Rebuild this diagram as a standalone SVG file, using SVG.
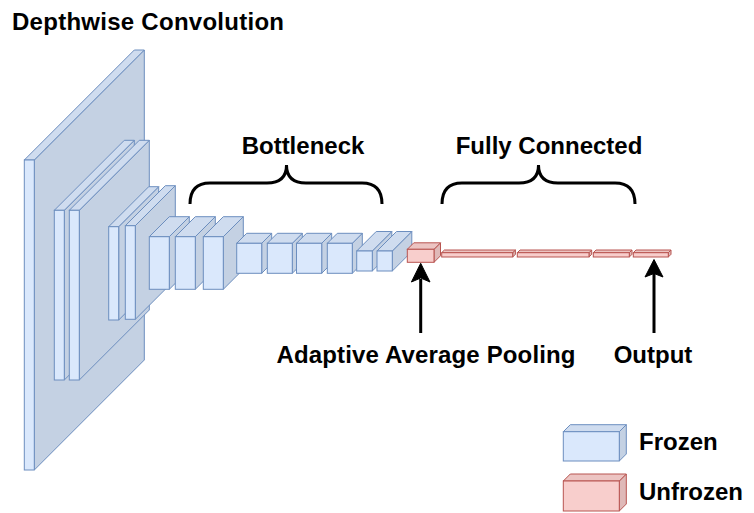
<svg xmlns="http://www.w3.org/2000/svg" width="754" height="513" viewBox="0 0 754 513">
<style>
.bf{fill:#dae8fc;stroke:#6c8ebf;stroke-width:1}
.bt{fill:#cfdcef;stroke:#6c8ebf;stroke-width:1;stroke-linejoin:round}
.bs{fill:#c4d1e3;stroke:#6c8ebf;stroke-width:1;stroke-linejoin:round}
.rf{fill:#f8cecc;stroke:#b85450;stroke-width:1}
.rt{fill:#ecc4c2;stroke:#b85450;stroke-width:1;stroke-linejoin:round}
.rs{fill:#dfb9b8;stroke:#b85450;stroke-width:1;stroke-linejoin:round}
.t{font-family:"Liberation Sans",Arial,sans-serif;font-weight:bold;font-size:24px;fill:#000}
.br{fill:none;stroke:#000;stroke-width:3;stroke-linecap:butt}
.ar{stroke:#000;stroke-width:3;fill:none}
.ah{fill:#000;stroke:#000;stroke-width:1}
</style>
<text class="t" x="12" y="29.5" textLength="272" lengthAdjust="spacing">Depthwise Convolution</text>

<g id="slab1"><polygon class="bs" points="34.3,160 144.3,50 144.3,360 34.3,470"/><polygon class="bt" points="24.3,160 134.3,50 144.3,50 34.3,160"/><rect class="bf" x="24.3" y="160" width="10" height="310"/></g>
<g id="slab2"><polygon class="bs" points="64.3,210.3 134.3,140.3 134.3,310 64.3,380"/><polygon class="bt" points="54.3,210.3 124.3,140.3 134.3,140.3 64.3,210.3"/><rect class="bf" x="54.3" y="210.3" width="10" height="169.7"/></g>
<g id="slab3"><polygon class="bs" points="79.3,210.3 149.3,140.3 149.3,310 79.3,380"/><polygon class="bt" points="69.3,210.3 139.3,140.3 149.3,140.3 79.3,210.3"/><rect class="bf" x="69.3" y="210.3" width="10" height="169.7"/></g>
<g id="slab4"><polygon class="bs" points="118.7,226.7 158.7,186.7 158.7,280 118.7,320"/><polygon class="bt" points="108.7,226.7 148.7,186.7 158.7,186.7 118.7,226.7"/><rect class="bf" x="108.7" y="226.7" width="10" height="93.3"/></g>
<g id="slab5"><polygon class="bs" points="135.3,225.7 175.3,185.7 175.3,279.3 135.3,319.3"/><polygon class="bt" points="125.3,225.7 165.3,185.7 175.3,185.7 135.3,225.7"/><rect class="bf" x="125.3" y="225.7" width="10" height="93.6"/></g>
<g id="box1"><polygon class="bs" points="169.3,236.7 189.3,216.7 189.3,269.3 169.3,289.3"/><polygon class="bt" points="149.3,236.7 169.3,216.7 189.3,216.7 169.3,236.7"/><rect class="bf" x="149.3" y="236.7" width="20" height="52.6"/></g>
<g id="box2"><polygon class="bs" points="195.3,236.7 215.3,216.7 215.3,269.3 195.3,289.3"/><polygon class="bt" points="175.3,236.7 195.3,216.7 215.3,216.7 195.3,236.7"/><rect class="bf" x="175.3" y="236.7" width="20" height="52.6"/></g>
<g id="box3"><polygon class="bs" points="223.3,236.7 243.3,216.7 243.3,269.3 223.3,289.3"/><polygon class="bt" points="203.3,236.7 223.3,216.7 243.3,216.7 223.3,236.7"/><rect class="bf" x="203.3" y="236.7" width="20" height="52.6"/></g>
<g id="box4"><polygon class="bs" points="261.7,243.3 271.7,233.3 271.7,263.3 261.7,273.3"/><polygon class="bt" points="236.7,243.3 246.7,233.3 271.7,233.3 261.7,243.3"/><rect class="bf" x="236.7" y="243.3" width="25" height="30"/></g>
<g id="box5"><polygon class="bs" points="292.3,243.3 302.3,233.3 302.3,263.3 292.3,273.3"/><polygon class="bt" points="267.3,243.3 277.3,233.3 302.3,233.3 292.3,243.3"/><rect class="bf" x="267.3" y="243.3" width="25" height="30"/></g>
<g id="box6"><polygon class="bs" points="321.7,243.3 331.7,233.3 331.7,263.3 321.7,273.3"/><polygon class="bt" points="296.5,243.3 306.5,233.3 331.7,233.3 321.7,243.3"/><rect class="bf" x="296.5" y="243.3" width="25.2" height="30"/></g>
<g id="box7"><polygon class="bs" points="352.3,243.3 362.3,233.3 362.3,263.3 352.3,273.3"/><polygon class="bt" points="327.3,243.3 337.3,233.3 362.3,233.3 352.3,243.3"/><rect class="bf" x="327.3" y="243.3" width="25" height="30"/></g>
<g id="box8"><polygon class="bs" points="372.3,251 391.8,231.5 391.8,251.5 372.3,271"/><polygon class="bt" points="356.7,251 376.2,231.5 391.8,231.5 372.3,251"/><rect class="bf" x="356.7" y="251" width="15.6" height="20"/></g>
<g id="box9"><polygon class="bs" points="392.3,251 411.8,231.5 411.8,251.5 392.3,271"/><polygon class="bt" points="377,251 396.5,231.5 411.8,231.5 392.3,251"/><rect class="bf" x="377" y="251" width="15.3" height="20"/></g>

<g id="pool"><polygon class="rs" points="434,249.3 440.5,242.8 440.5,255.8 434,262.3"/><polygon class="rt" points="407.3,249.3 413.8,242.8 440.5,242.8 434,249.3"/><rect class="rf" x="407.3" y="249.3" width="26.7" height="13"/></g>
<g id="fc1"><polygon class="rs" points="512.7,252.7 515.4,250 515.4,254.3 512.7,257"/><polygon class="rt" points="441.7,252.7 444.4,250 515.4,250 512.7,252.7"/><rect class="rf" x="441.7" y="252.7" width="71" height="4.3"/></g>
<g id="fc2"><polygon class="rs" points="589,252.7 591.7,250 591.7,254.3 589,257"/><polygon class="rt" points="517.3,252.7 520,250 591.7,250 589,252.7"/><rect class="rf" x="517.3" y="252.7" width="71.7" height="4.3"/></g>
<g id="fc3"><polygon class="rs" points="629.3,252.7 632,250 632,254.3 629.3,257"/><polygon class="rt" points="593.3,252.7 596,250 632,250 629.3,252.7"/><rect class="rf" x="593.3" y="252.7" width="36" height="4.3"/></g>
<g id="fc4"><polygon class="rs" points="668.3,252.7 671,250 671,254.3 668.3,257"/><polygon class="rt" points="633.3,252.7 636,250 671,250 668.3,252.7"/><rect class="rf" x="633.3" y="252.7" width="35" height="4.3"/></g>

<g id="connectors">
<path class="br" d="M190,204 Q190,183 210,183 L267,183 Q286.5,183 286.5,165 Q286.5,183 306,183 L362,183 Q382,183 382,204"/>
<path class="br" d="M442,204 Q442,183 462,183 L519,183 Q538.5,183 538.5,165 Q538.5,183 558,183 L615,183 Q635,183 635,204"/>
<line class="ar" x1="420.7" y1="333" x2="420.7" y2="279"/>
<polygon class="ah" points="420.7,263.3 430,282 420.7,278 411.4,282"/>
<line class="ar" x1="654" y1="333" x2="654" y2="272"/>
<polygon class="ah" points="654,259.5 663,277 654,273.5 645,277"/>
</g>

<g id="labels">
<text class="t" x="303" y="154" text-anchor="middle">Bottleneck</text>
<text class="t" x="549" y="154" text-anchor="middle">Fully Connected</text>
<text class="t" x="426" y="363" text-anchor="middle" textLength="299" lengthAdjust="spacing">Adaptive Average Pooling</text>
<text class="t" x="653" y="363" text-anchor="middle">Output</text>
</g>

<g id="legend-frozen"><polygon class="bs" points="619.3,431.7 626.3,424.7 626.3,454 619.3,461"/><polygon class="bt" points="563.3,431.7 570.3,424.7 626.3,424.7 619.3,431.7"/><rect class="bf" x="563.3" y="431.7" width="56" height="29.3"/><text class="t" x="639" y="449.5">Frozen</text></g>
<g id="legend-unfrozen"><polygon class="rs" points="619.3,481 626.3,474 626.3,504 619.3,511"/><polygon class="rt" points="563.3,481 570.3,474 626.3,474 619.3,481"/><rect class="rf" x="563.3" y="481" width="56" height="30"/><text class="t" x="639" y="499.5">Unfrozen</text></g>
</svg>
